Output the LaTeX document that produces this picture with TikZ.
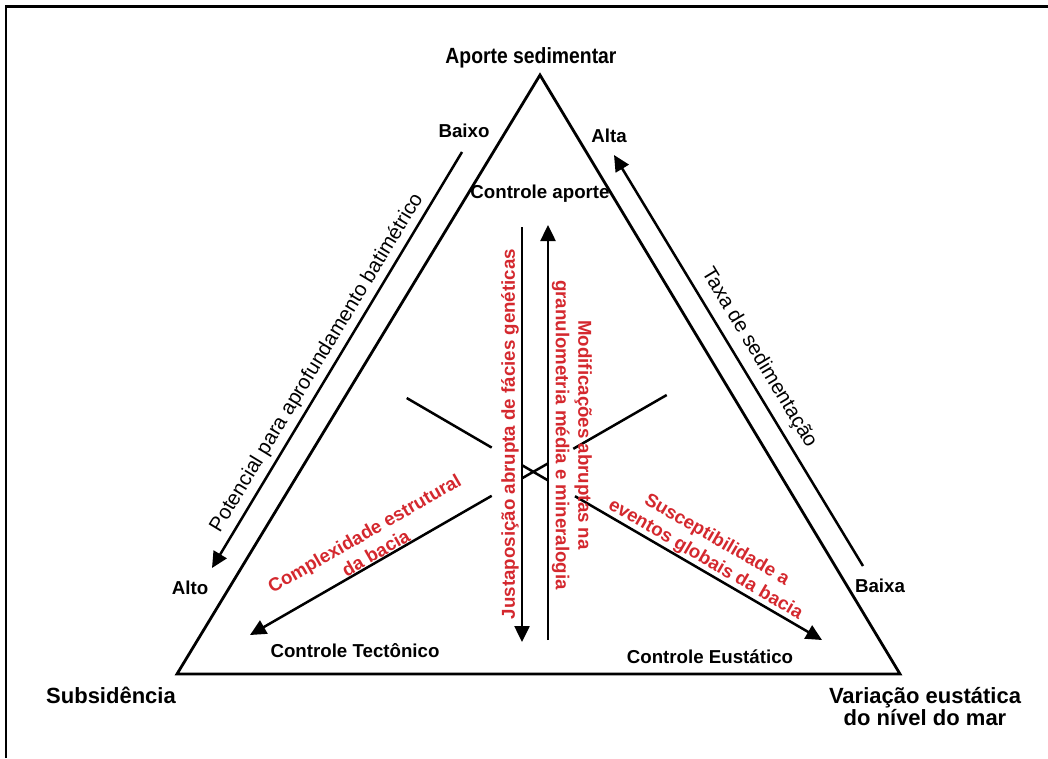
\documentclass[tikz,border=0pt]{standalone}
\usepackage{fontspec}
\setmainfont{Liberation Sans}
\usetikzlibrary{arrows.meta}
\definecolor{redtxt}{RGB}{212,40,46}
\begin{document}
\begin{tikzpicture}[x=1pt,y=-1pt,
  lbl/.style={font=\fontsize{18.7}{22}\selectfont\bfseries, inner sep=0pt},
  biglbl/.style={font=\fontsize{22}{22}\selectfont\bfseries, inner sep=0pt, align=center},
  sidelbl/.style={font=\fontsize{20.5}{24}\selectfont, inner sep=0pt},
  redlbl/.style={font=\fontsize{18.7}{22.5}\selectfont\bfseries, text=redtxt, inner sep=0pt, align=center},
  edgeline/.style={line width=2.8pt, line join=miter},
  arr/.style={line width=2.5pt, -{Triangle[length=16pt,width=15pt]}},
  ln/.style={line width=2.5pt}
]
\useasboundingbox (0,0) rectangle (1048,758);
% frame
\draw[line width=2.6pt] (6,758) -- (6,6.5) -- (1048,6.5);
% triangle
\coordinate (apex) at (540,75);
\coordinate (bl) at (177,674);
\coordinate (br) at (900,674);
\draw[edgeline] (apex) -- (bl) -- (br) -- cycle;
% corner labels
\node[biglbl, xscale=0.88] (aporte) at (531,58) {Aporte sedimentar};
\node[biglbl] (subs) at (111,695) {Subsidência};
\node[biglbl] (varia) at (925,707) {Variação eustática\\do nível do mar};
% side labels
\node[lbl] (baixo) at (464,131) {Baixo};
\node[lbl] (alto) at (190,588) {Alto};
\node[lbl] (alta) at (609,136) {Alta};
\node[lbl] (baixa) at (880,586) {Baixa};
\node[lbl] (caporte) at (540,194) {Controle aporte};
\node[lbl] (ctect) at (355,651) {Controle Tectônico};
\node[lbl] (ceust) at (710,657) {Controle Eustático};
% outer arrows
\coordinate (la) at (462,152);
\coordinate (lb) at (212,568);
\draw[arr] (la) -- (lb);
\node[sidelbl, rotate=58.74] (pot) at (317,363) {Potencial para aprofundamento batimétrico};
\coordinate (ra) at (863,566);
\coordinate (rb) at (614,155);
\draw[arr] (ra) -- (rb);
\node[sidelbl, rotate=-58.96] (taxa) at (759,358) {Taxa de sedimentação};
% vertical arrows
\coordinate (dTop) at (522,227);
\coordinate (dTip) at (522,642);
\draw[arr] (dTop) -- (dTip);
\coordinate (uBot) at (548,640);
\coordinate (uTip) at (548,225);
\draw[arr] (uBot) -- (uTip);
% X lines (with gaps where the vertical texts pass)
\coordinate (a1) at (406.7,398);
\coordinate (a2) at (491.7,447.6);
\coordinate (a3) at (522,465.2);
\coordinate (a4) at (548,480.4);
\coordinate (a5) at (575,496.2);
\coordinate (a6) at (822,640);
\draw[ln] (a1) -- (a2);
\draw[ln] (a3) -- (a4);
\draw[arr] (a5) -- (a6);
\coordinate (b1) at (666.7,395);
\coordinate (b2) at (573.3,448.8);
\coordinate (b3) at (548,463.4);
\coordinate (b4) at (522,478.3);
\coordinate (b5) at (491.7,495.8);
\coordinate (b6) at (250,635);
\draw[ln] (b1) -- (b2);
\draw[ln] (b3) -- (b4);
\draw[arr] (b5) -- (b6);
% red texts
\node[redlbl, rotate=90] (just) at (510,434) {Justaposição abrupta de fácies genéticas};
\node[redlbl, rotate=-90] (modif) at (572,435) {Modificações abruptas na\\granulometria média e mineralogia};
\node[redlbl, rotate=29.9] (compl) at (370,543) {Complexidade estrutural\\da bacia};
\node[redlbl, rotate=-30.2] (susc) at (711,550) {Susceptibilidade a\\eventos globais da bacia};
\end{tikzpicture}
\end{document}
